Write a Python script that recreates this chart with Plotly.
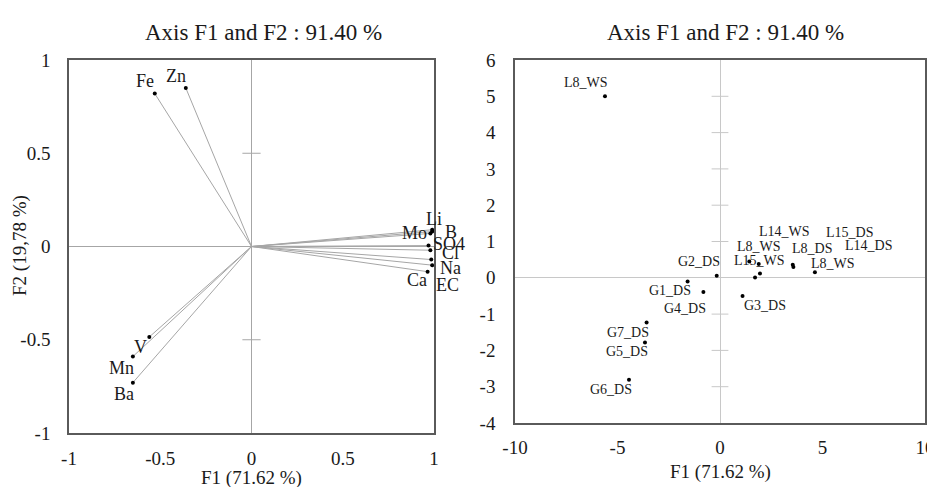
import plotly.graph_objects as go

# ---------------- data ----------------
# Left: variable loadings (correlation circle)
var_names = ["Fe", "Zn", "V", "Mn", "Ba", "Li", "Mo", "B", "SO4", "Cl", "Na", "EC", "Ca"]
var_f1 = [-0.53, -0.36, -0.56, -0.65, -0.65, 0.99, 0.98, 0.99, 0.97, 0.98, 0.985, 0.99, 0.965]
var_f2 = [0.82, 0.85, -0.485, -0.59, -0.73, 0.09, 0.07, 0.08, 0.005, -0.02, -0.07, -0.10, -0.135]
# label offsets in pixels (dx right, dy down) - style only
var_lbl_dx = [-10, -10, -9, -11, -9, 2, -16, 19, 20, 20, 19, 15, -11]
var_lbl_dy = [-13, -12, 10, 11, 11, -11, 0, 0, -2, 3, 8, 20, 8]

# Right: observations
obs_names = ["L8_WS", "G2_DS", "G1_DS", "G4_DS", "G7_DS", "G5_DS", "G6_DS", "G3_DS",
             "L15_WS", "L8_WS", "L14_WS", "L8_DS", "L15_DS", "L14_DS", "L8_WS"]
obs_f1 = [-5.61, -0.16, -1.58, -0.81, -3.58, -3.66, -4.44, 1.10,
          1.43, 1.89, 1.95, 1.71, 3.55, 3.58, 4.63]
obs_f2 = [5.00, 0.055, -0.10, -0.39, -1.23, -1.78, -2.81, -0.50,
          0.45, 0.38, 0.12, 0.01, 0.36, 0.30, 0.15]
obs_lbl_dx = [-19, -18, -18, -18, -19, -18, -18, 22, 10, 0, 25, 57, 57, 75, 18]
obs_lbl_dy = [-14, -14, 9, 17, 10, 9, 10, 10, -1, -18, -42, -29, -32, -21, -9]

left_ticks = [-1, -0.5, 0, 0.5, 1]
left_ticktext = ["-1", "-0.5", "0", "0.5", "1"]
right_xticks = [-10, -5, 0, 5, 10]
right_xticktext = ["-10", "-5", "0", "5", "10"]
right_yticks = [-4, -3, -2, -1, 0, 1, 2, 3, 4, 5, 6]
right_yticktext = ["-4", "-3", "-2", "-1", "0", "1", "2", "3", "4", "5", "6"]

title_text = "Axis F1 and F2 : 91.40 %"
xtitle_text = "F1 (71.62 %)"
ytitle_text = "F2 (19,78 %)"

# ---------------- layout geometry ----------------
# page body has an 8px margin, so the figure is drawn 8px in from the window corner
OFF = 8
W, H = 935 - OFF, 487 - OFF
FONT = "Liberation Serif, Times New Roman, serif"


def px(x):
    return (x - OFF) / W


def py(y):
    return 1 - (y - OFF) / H


LX = [px(69), px(434)]
LY = [py(433), py(60)]
RX = [px(515), px(925)]
RY = [py(423), py(60)]

fig = go.Figure()

# vectors from origin
lx, ly = [], []
for a, b in zip(var_f1, var_f2):
    lx += [0, a, None]
    ly += [0, b, None]
fig.add_trace(go.Scatter(x=lx, y=ly, mode="lines", line=dict(color="#a6a6a6", width=1),
                         xaxis="x", yaxis="y", hoverinfo="skip", showlegend=False))
fig.add_trace(go.Scatter(x=var_f1, y=var_f2, mode="markers", marker=dict(color="black", size=4),
                         xaxis="x", yaxis="y", showlegend=False))

# small ticks on central vertical axis
lt = [t for t in left_ticks if t not in (0, left_ticks[0], left_ticks[-1])]
fig.add_trace(go.Scatter(x=[0] * len(lt), y=lt, mode="markers",
                         marker=dict(symbol="line-ew", size=13, line=dict(color="#a6a6a6", width=1)),
                         xaxis="x", yaxis="y", hoverinfo="skip", showlegend=False))
rt = [t for t in right_yticks if t not in (0, right_yticks[0], right_yticks[-1])]
fig.add_trace(go.Scatter(x=[0] * len(rt), y=rt, mode="markers",
                         marker=dict(symbol="line-ew", size=12, line=dict(color="#c8c8c8", width=1)),
                         xaxis="x2", yaxis="y2", hoverinfo="skip", showlegend=False))

fig.add_trace(go.Scatter(x=obs_f1, y=obs_f2, mode="markers", marker=dict(color="black", size=4),
                         xaxis="x2", yaxis="y2", showlegend=False))

TXT = "#1a1a1a"
ann = []
for n, a, b, dx, dy in zip(var_names, var_f1, var_f2, var_lbl_dx, var_lbl_dy):
    ann.append(dict(x=a, y=b, xref="x", yref="y", text=n, showarrow=False,
                    xanchor="center", yanchor="middle",
                    xshift=dx, yshift=-dy, font=dict(family=FONT, size=18, color=TXT)))
for n, a, b, dx, dy in zip(obs_names, obs_f1, obs_f2, obs_lbl_dx, obs_lbl_dy):
    ann.append(dict(x=a, y=b, xref="x2", yref="y2", text=n, showarrow=False,
                    xanchor="center", yanchor="middle",
                    xshift=dx, yshift=-dy, font=dict(family=FONT, size=14, color=TXT)))


def paper_text(x, y, text, size, angle=0):
    return dict(x=px(x), y=py(y), xref="paper", yref="paper", text=text, textangle=angle,
                xanchor="center", yanchor="middle", showarrow=False,
                font=dict(family=FONT, size=size, color=TXT))


# titles
ann.append(paper_text(264, 32, title_text, 23))
ann.append(paper_text(725, 32, title_text, 23))
ann.append(paper_text(251, 478, xtitle_text, 19))
ann.append(paper_text(720, 472, xtitle_text, 19))
ann.append(paper_text(20, 246, ytitle_text, 19, -90))

axis_common = dict(showgrid=False, showline=True, mirror=True, linecolor="#5a5a5a", linewidth=1.5,
                   ticks="outside", tickcolor="rgba(0,0,0,0)", automargin=False,
                   tickfont=dict(family=FONT, size=19, color=TXT), zeroline=True,
                   fixedrange=True)

fig.update_layout(
    width=W, height=H, margin=dict(l=0, r=0, t=0, b=0, autoexpand=False),
    paper_bgcolor="white", plot_bgcolor="white", showlegend=False,
    xaxis=dict(domain=LX, range=[-1, 1], tickvals=left_ticks, ticktext=left_ticktext,
               anchor="y", ticklen=7, zerolinecolor="#a6a6a6", zerolinewidth=1, **axis_common),
    yaxis=dict(domain=LY, range=[-1, 1], tickvals=left_ticks, ticktext=left_ticktext,
               anchor="x", ticklen=13, zerolinecolor="#a6a6a6", zerolinewidth=1, **axis_common),
    xaxis2=dict(domain=RX, range=[-10, 10], tickvals=right_xticks, ticktext=right_xticktext,
                anchor="y2", ticklen=6, zerolinecolor="#c8c8c8", zerolinewidth=1, **axis_common),
    yaxis2=dict(domain=RY, range=[-4, 6], tickvals=right_yticks, ticktext=right_yticktext,
                anchor="x2", ticklen=14, zerolinecolor="#c8c8c8", zerolinewidth=1, **axis_common),
    annotations=ann,
)

fig.write_html("out.html")
